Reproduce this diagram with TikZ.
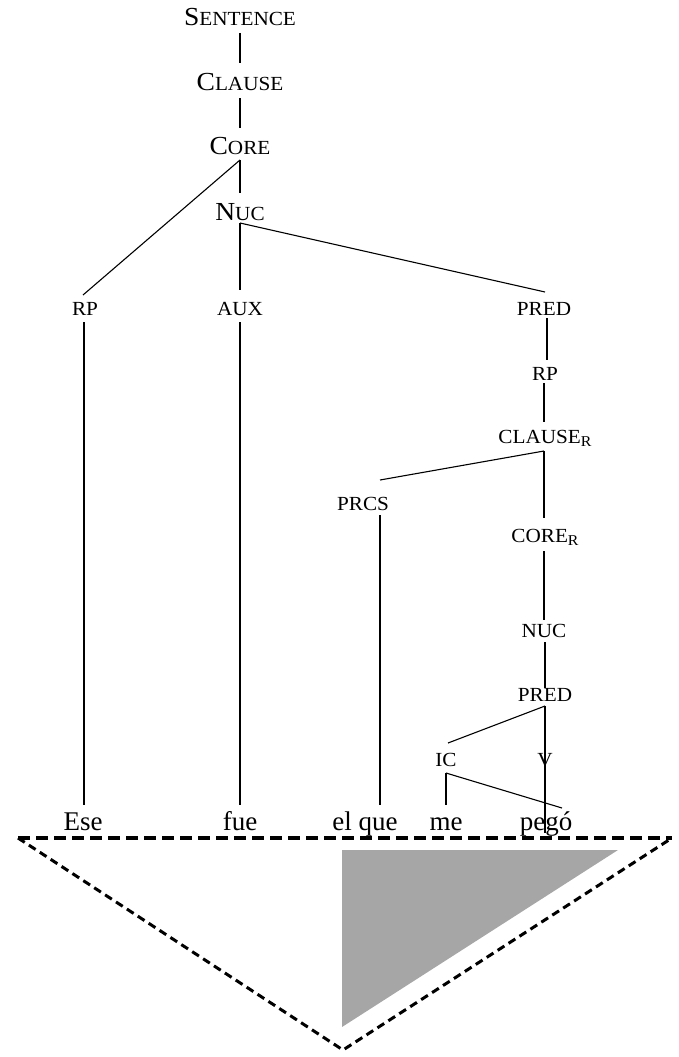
\documentclass[tikz,border=0pt]{standalone}
\usepackage{fontspec}
\setmainfont{Liberation Serif}
\newfontfamily\labfont{Liberation Serif}[FakeStretch=1.06]
\newcommand{\lsz}{\fontsize{20}{20}\selectfont}
\newcommand{\bsz}{\fontsize{26}{26}\selectfont}
\newcommand{\wsz}{\fontsize{27}{27}\selectfont}
\newcommand{\fsc}[2]{{\bsz #1}{\lsz #2}}
\newcommand{\subR}{\raisebox{-3pt}{\fontsize{15}{15}\selectfont R}}
\definecolor{trigray}{RGB}{166,166,166}
\begin{document}
\begin{tikzpicture}[x=1pt,y=-1pt,
  lab/.style={anchor=base,inner sep=0pt,font=\labfont\lsz},
  word/.style={anchor=base,inner sep=0pt,font=\wsz},
  edge/.style={line width=1.1pt},
  topdash/.style={line width=3.5pt,dash pattern=on 12pt off 6pt},
  sidedash/.style={line width=3pt,dash pattern=on 8pt off 5pt}]
\useasboundingbox (0,0) rectangle (678,1057);

% labels
\node[lab] (sent)    at (240,26)  {\fsc{S}{ENTENCE}};
\node[lab] (clause)  at (240,90.5){\fsc{C}{LAUSE}};
\node[lab] (core)    at (240,154) {\fsc{C}{ORE}};
\node[lab] (nuc)     at (240,220) {\fsc{N}{UC}};
\node[lab] (rpa)     at (85,315)  {RP};
\node[lab] (aux)     at (240,315) {AUX};
\node[lab] (preda)   at (544,315) {PRED};
\node[lab] (rpb)     at (545,380) {RP};
\node[lab] (clauser) at (545,443) {CLAUSE\subR};
\node[lab] (prcs)    at (363,510) {PRCS};
\node[lab] (corer)   at (545,542) {CORE\subR};
\node[lab] (nucb)    at (544,637) {NUC};
\node[lab] (predb)   at (545,701) {PRED};
\node[lab] (ic)      at (446,766) {IC};
\node[lab] (v)       at (545,766) {V};

% words
\node[word] (ese)  at (83,830)  {Ese};
\node[word] (fue)  at (240,830) {fue};
\node[word] (elque) at (365,830) {el que};
\node[word] (me)   at (446,830) {me};
\node[word] (pego) at (546,830) {pegó};

% tree edges
\draw[edge] ([yshift=-7pt]sent.base) -- ([yshift=27.5pt]clause.base);
\draw[edge] ([yshift=-7.5pt]clause.base) -- ([yshift=26pt]core.base);
\draw[edge] ([yshift=-6pt]core.base) -- ([yshift=27pt]nuc.base);
\draw[edge] ([yshift=-6pt]core.base) -- ([xshift=-2pt,yshift=20pt]rpa.base);
\draw[edge] ([yshift=-3pt]nuc.base) -- ([yshift=25pt]aux.base);
\draw[edge] ([yshift=-3pt]nuc.base) -- ([xshift=1pt,yshift=23pt]preda.base);
\draw[edge] ([xshift=-1pt,yshift=-7pt]rpa.base) -- ([xshift=1pt,yshift=25pt]ese.base);
\draw[edge] ([yshift=-7pt]aux.base) -- ([yshift=25pt]fue.base);
\draw[edge] ([xshift=3pt,yshift=-3pt]preda.base) -- ([xshift=2pt,yshift=20pt]rpb.base);
\draw[edge] ([xshift=-1pt,yshift=-3pt]rpb.base) -- ([xshift=-1pt,yshift=21pt]clauser.base);
\draw[edge] ([xshift=-1pt,yshift=-8pt]clauser.base) -- ([xshift=17pt,yshift=30pt]prcs.base);
\draw[edge] ([xshift=-1pt,yshift=-8pt]clauser.base) -- ([xshift=-1pt,yshift=24pt]corer.base);
\draw[edge] ([xshift=17pt,yshift=-5pt]prcs.base) -- ([xshift=15pt,yshift=25pt]elque.base);
\draw[edge] ([xshift=-1pt,yshift=-9pt]corer.base) -- ([yshift=17pt]nucb.base);
\draw[edge] ([xshift=1pt,yshift=-5pt]nucb.base) -- ([yshift=13pt]predb.base);
\draw[edge] ([yshift=-5pt]predb.base) -- ([xshift=2pt,yshift=23pt]ic.base);
\draw[edge] ([yshift=-5pt]predb.base) -- (v.base) -- ([xshift=-1pt,yshift=-3pt]pego.base);
\draw[edge] ([yshift=-7pt]ic.base) -- ([yshift=25pt]me.base);
\draw[edge] ([yshift=-7pt]ic.base) -- ([xshift=16pt,yshift=22pt]pego.base);

% triangles
\fill[trigray] (342,850) -- (618,850) -- (342,1027) -- cycle;
\coordinate (tl) at (18,838);
\coordinate (tr) at (672,838);
\coordinate (bt) at (343,1050);
\draw[topdash] (tl) -- (tr);
\draw[sidedash] (tl) -- (bt) -- (tr);
\end{tikzpicture}
\end{document}
